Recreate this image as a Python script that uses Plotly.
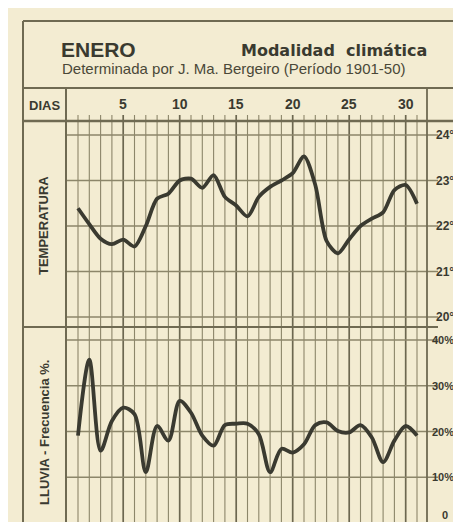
import plotly.graph_objects as go

W, H = 461, 522

days = list(range(1, 32))
temperatura = [22.39, 22.04, 21.72, 21.60, 21.70, 21.55, 22.00, 22.60, 22.71, 23.00,
               23.04, 22.84, 23.12, 22.64, 22.45, 22.21, 22.64, 22.86, 23.00, 23.16,
               23.53, 22.90, 21.67, 21.40, 21.71, 22.00, 22.16, 22.30, 22.79, 22.90, 22.49]
lluvia = [19.1, 35.7, 15.8, 22.3, 25.2, 23.8, 11.1, 21.2, 18.0, 26.7,
          24.1, 19.1, 16.9, 21.4, 21.7, 21.7, 19.4, 11.1, 16.2, 15.4,
          17.2, 21.4, 22.0, 20.1, 19.8, 21.4, 18.7, 13.3, 18.0, 21.2, 19.1]
temp_ticks = [20, 21, 22, 23, 24]
rain_ticks = [0, 10, 20, 30, 40]
day_labels = [5, 10, 15, 20, 25, 30]

BG = "#f3ecd2"
GRID = "#8c866a"
INK = "#3a3a30"
FRAME = "#6f6a52"
FONT = "Liberation Sans, Arial"

def px(x):
    return x / W

def py(y):
    return 1 - y / H

fig = go.Figure()
fig.add_trace(go.Scatter(x=days, y=temperatura, mode="lines",
                         line=dict(color=INK, width=3.8, shape="spline", smoothing=0.8),
                         xaxis="x", yaxis="y", hoverinfo="skip"))
fig.add_trace(go.Scatter(x=days, y=lluvia, mode="lines",
                         line=dict(color=INK, width=3.8, shape="spline", smoothing=0.9),
                         xaxis="x", yaxis="y2", hoverinfo="skip"))

shapes = []
for d in days:
    dark = d % 5 == 0
    shapes.append(dict(type="line", xref="x", yref="paper", x0=d, x1=d,
                       y0=0, y1=py(107), layer="below",
                       line=dict(color="#6c6750" if dark else GRID, width=1.7 if dark else 1.1)))
for t in temp_ticks:
    shapes.append(dict(type="line", xref="paper", yref="y", x0=px(58), x1=px(430),
                       y0=t, y1=t, layer="below", line=dict(color=GRID, width=1.6)))
for r in rain_ticks:
    shapes.append(dict(type="line", xref="paper", yref="y2", x0=px(58), x1=px(430),
                       y0=r, y1=r, layer="below", line=dict(color=GRID, width=1.6)))

def pline(x0, y0, x1, y1, w=1.8, c=FRAME):
    shapes.append(dict(type="line", xref="paper", yref="paper", x0=px(x0), x1=px(x1),
                       y0=py(y0), y1=py(y1), line=dict(color=c, width=w)))
pline(15, 13, 461, 13, 2.0)
pline(15, 13, 15, 522, 2.0)
pline(15, 80, 461, 80, 1.8)
pline(58, 80, 58, 522, 2.0)
pline(419, 80, 419, 522, 1.8)
pline(15, 113, 461, 113, 2.4)
pline(15, 319, 430, 319, 2.0)
fig.update_layout(shapes=shapes)

ann = []
ann.append(dict(text="<b>ENERO</b>", x=px(51), y=py(41), xanchor="left", yanchor="middle",
                font=dict(family=FONT, size=21, color=INK), showarrow=False))
ann.append(dict(text="<b>Modalidad  climática</b>", x=px(421), y=py(42), xanchor="right", yanchor="middle",
                font=dict(family="DejaVu Sans", size=16, color=INK), showarrow=False))
ann.append(dict(text="Determinada por J. Ma. Bergeiro (Período 1901-50)", x=px(52), y=py(61),
                xanchor="left", yanchor="middle",
                font=dict(family=FONT, size=15, color="#4a4838"), showarrow=False))
ann.append(dict(text="<b>DIAS</b>", x=px(36), y=py(97), xanchor="center", yanchor="middle",
                font=dict(family=FONT, size=13, color=INK), showarrow=False))
for d in day_labels:
    ann.append(dict(text="<b>%d</b>" % d, x=d, xref="x", y=py(96), yref="paper",
                    xanchor="center", yanchor="middle",
                    font=dict(family=FONT, size=14, color=INK), showarrow=False))
for t in temp_ticks:
    ann.append(dict(text="<b>%d°</b>" % t, x=px(448), xref="paper", y=t, yref="y",
                    xanchor="right", yanchor="middle",
                    font=dict(family=FONT, size=12, color=INK), showarrow=False))
for r in rain_ticks:
    lab = "<b>%d</b>" % r if r == 0 else "<b>%d%%</b>" % r
    ann.append(dict(text=lab, x=px(448) if r else px(442), xref="paper", y=r, yref="y2",
                    xanchor="right", yanchor="bottom" if r == 0 else "middle",
                    font=dict(family=FONT, size=11, color=INK), showarrow=False))
ann.append(dict(text="<b>TEMPERATURA</b>", x=px(36), y=py(218), textangle=-90,
                xanchor="center", yanchor="middle",
                font=dict(family=FONT, size=13, color=INK), showarrow=False))
ann.append(dict(text="<b>LLUVIA - Frecuencia %.</b>", x=px(36), y=py(425), textangle=-90,
                xanchor="center", yanchor="middle",
                font=dict(family=FONT, size=13, color=INK), showarrow=False))
for a in ann:
    a.setdefault("xref", "paper")
    a.setdefault("yref", "paper")
fig.update_layout(annotations=ann)

x0_day = 1 + (58 - 70) / 11.3
x1_day = 1 + (419 - 70) / 11.3
fig.update_layout(
    width=W, height=H, margin=dict(l=0, r=0, t=0, b=0),
    paper_bgcolor=BG, plot_bgcolor=BG, showlegend=False,
    xaxis=dict(domain=[px(58), px(419)], range=[x0_day, x1_day], showgrid=False,
               zeroline=False, showticklabels=False, ticks="", anchor="y2"),
    yaxis=dict(domain=[py(319), py(113)], range=[20 - 10 / 45.5, 24 + 14 / 45.5],
               showgrid=False, zeroline=False, showticklabels=False),
    yaxis2=dict(domain=[0, py(319)], range=[-7 / 4.575, 40 + 13 / 4.575],
                showgrid=False, zeroline=False, showticklabels=False),
)

fig.write_html("out.html")
